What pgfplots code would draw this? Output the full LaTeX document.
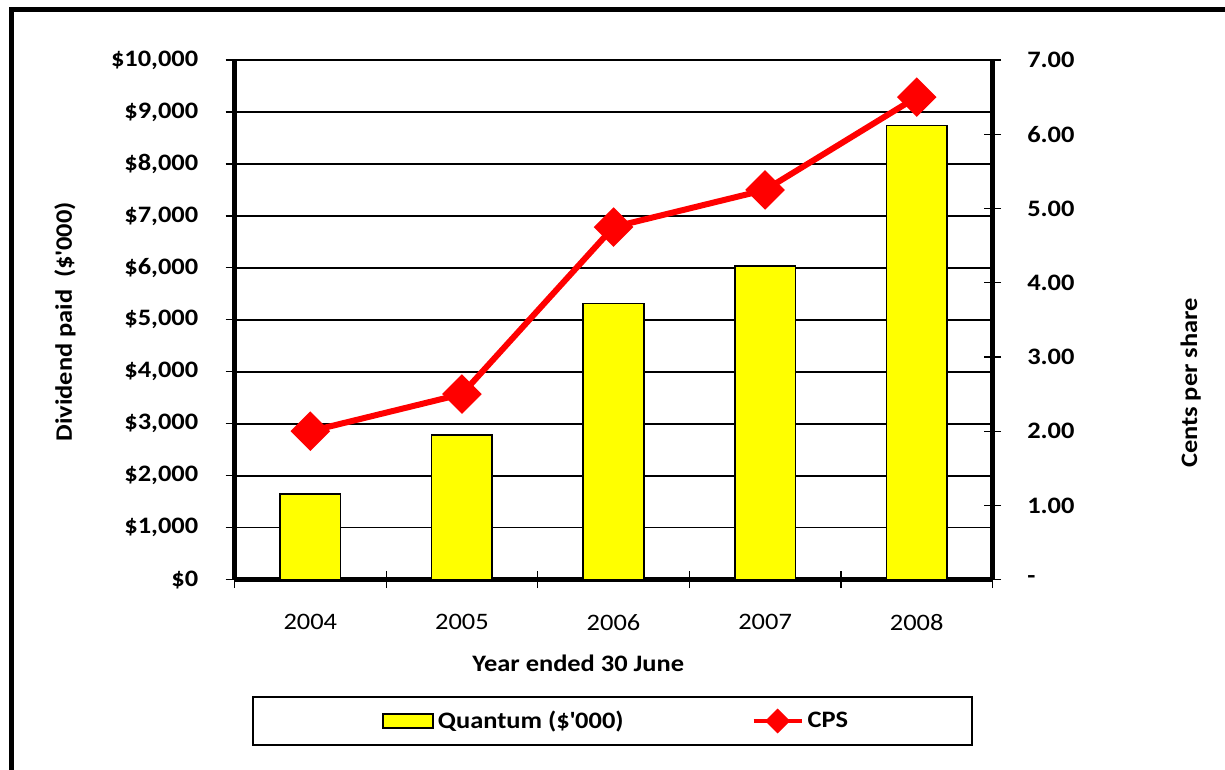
\documentclass[border=0pt]{standalone}
\usepackage{fontspec}
\setmainfont{Carlito}[FakeStretch=1.12]
\usepackage{pgfplots}
\usepackage{pgfplotstable}
\pgfplotsset{compat=1.18}

\definecolor{barYellow}{RGB}{255,255,0}
\definecolor{cpsRed}{RGB}{255,0,0}

% Dividends paid ($'000) and cents per share, by financial year
\pgfplotstableread{
idx year quantum cps
0 2004 1650 2.00
1 2005 2780 2.50
2 2006 5310 4.75
3 2007 6040 5.25
4 2008 8740 6.50
}\divtable

\pgfplotsset{
  common/.style={
    scale only axis, width=379pt, height=259.85pt,
    at={(117.25pt,95.15pt)}, anchor=south west,
    xmin=-0.5, xmax=4.5,
    /pgf/number format/assume math mode=true,
    font=\fontsize{11.8}{14}\selectfont,
    axis line style={line width=2.2pt},
    scaled y ticks=false,
  },
  barlegend/.style={
    legend image code/.code={\draw[##1] (0pt,-3.5pt) rectangle (25pt,3.5pt);}
  },
  cpslegend/.style={
    legend image code/.code={\draw[##1, line width=2pt, mark size=3.4pt, mark repeat=2, mark phase=2]
      plot coordinates {(0pt,0pt) (12pt,0pt) (24pt,0pt)};}
  },
}

\begin{document}
\fontsize{11.8}{14}\selectfont
\begin{tikzpicture}
\useasboundingbox (0,0) rectangle (612.5pt,385pt);
% outer frame (top and left edges)
\draw[line width=2.5pt] (5.5pt,-3pt) -- (5.5pt,380pt) -- (616pt,380pt);

% left axis: bars
\begin{axis}[common,
  ymin=0, ymax=10000,
  axis x line*=bottom, axis y line*=left,
  ytick={0,1000,...,10000},
  yticklabels={{\$0},{\$1,000},{\$2,000},{\$3,000},{\$4,000},{\$5,000},{\$6,000},{\$7,000},{\$8,000},{\$9,000},{\$10,000}},
  ytick align=outside, major tick length=4.5pt,
  ytick style={black, line width=0.6pt},
  yticklabel style={font=\fontsize{11.8}{14}\selectfont\bfseries, xshift=-9.5pt},
  ymajorgrids, major grid style={black, line width=0.75pt},
  xtick={0,...,4}, xticklabels={2004,2005,2006,2007,2008},
  major x tick style={draw=none},
  minor xtick={-0.5,0.5,...,4.5},
  xtick align=center, minor tick length=8.5pt,
  minor x tick style={black, line width=0.6pt},
  xticklabel style={yshift=-11pt},
  xlabel={Year ended 30 June},
  every axis x label/.style={at={(axis description cs:0.4535,-0.1603)}, anchor=center, font=\fontsize{11.8}{14}\selectfont\bfseries},
  ylabel={Dividend paid\ \ (\$\textquotesingle 000)},
  every axis y label/.style={at={(axis description cs:-0.2238,0.496)}, rotate=90, anchor=center, font=\fontsize{11.8}{14}\selectfont\bfseries},
]
\addplot[ybar, bar width=0.4, fill=barYellow, draw=black, line width=0.75pt]
  table[x=idx, y=quantum] {\divtable};
\end{axis}

% right axis: cents per share
\begin{axis}[common,
  ymin=0, ymax=7,
  axis y line*=right, axis x line=none,
  ytick={0,1,...,7},
  yticklabels={-,1.00,2.00,3.00,4.00,5.00,6.00,7.00},
  tick align=center, major tick length=8.5pt,
  ytick style={black, line width=0.6pt},
  yticklabel style={font=\fontsize{11.8}{14}\selectfont\bfseries, xshift=9pt},
  ylabel={Cents per share},
  every axis y label/.style={at={(axis description cs:1.2614,0.3785)}, rotate=90, anchor=center, font=\fontsize{11.8}{14}\selectfont\bfseries},
  legend style={at={(axis description cs:0.505,-0.272)}, anchor=center,
    draw=none, fill=none, legend columns=2,
    font=\fontsize{11.8}{14}\selectfont\bfseries,
    /tikz/every even column/.append style={column sep=62pt}},
]
\addlegendimage{fill=barYellow, draw=black, line width=0.75pt, barlegend}
\addlegendentry{Quantum (\$\textquotesingle 000)}
\addplot[cpsRed, line width=3pt, mark=square*, mark size=5.5pt,
  mark options={rotate=45}, cpslegend]
  table[x=idx, y=cps] {\divtable};
\addlegendentry{CPS}
\end{axis}

% legend frame
\draw[line width=0.8pt] (126.5pt,12.5pt) rectangle (486pt,36.5pt);
\end{tikzpicture}
\end{document}
